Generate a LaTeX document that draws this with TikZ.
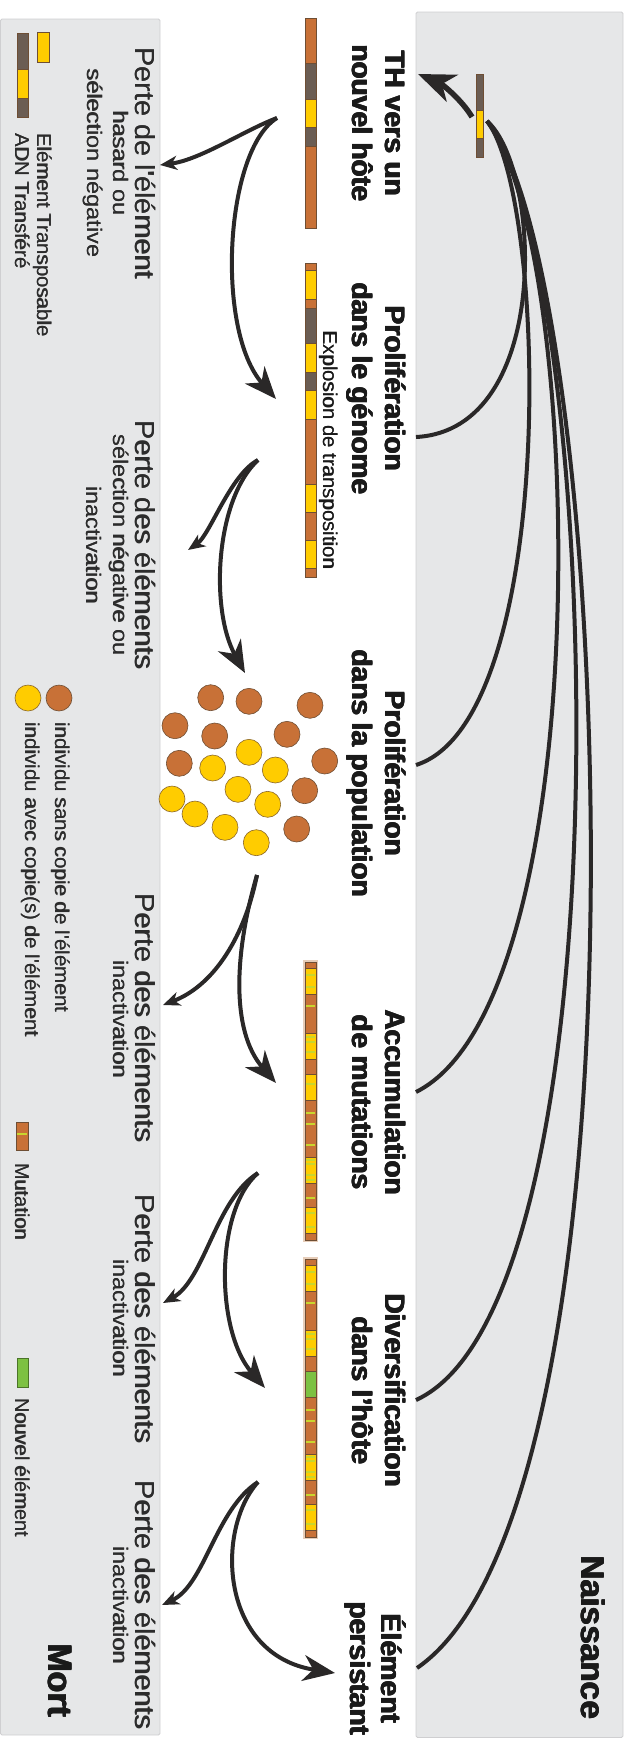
\documentclass[tikz,border=0pt]{standalone}
\usepackage{graphicx}
\usepackage{fontspec}
\setmainfont{Liberation Sans}
\newfontfamily\heavyfont{Liberation Sans Bold}
\usetikzlibrary{arrows.meta}
\definecolor{orangec}{HTML}{C87137}
\definecolor{yellowc}{HTML}{FFCC00}
\definecolor{grayc}{HTML}{6B5D53}
\definecolor{greenc}{HTML}{7DC142}
\definecolor{stripec}{HTML}{C8D62E}
\definecolor{panelc}{HTML}{E6E7E8}
\definecolor{panelb}{HTML}{CFCFD1}
\definecolor{arrowc}{HTML}{2A2828}
\definecolor{segb}{HTML}{6E4E34}
\definecolor{haloc}{HTML}{E6CDB9}
\definecolor{titlec}{HTML}{1A1A1A}
\definecolor{lossc}{HTML}{2C2C2C}
\newcommand\wide[2]{\scalebox{#1}[1]{#2}}
\newcommand\thick[1]{\rlap{\kern1pt #1}\rlap{\raisebox{0.8pt}{#1}}\rlap{\kern1pt\raisebox{0.8pt}{#1}}#1}
\newcommand\semithick[1]{\rlap{\kern0.35pt #1}#1}
\tikzset{
  panel/.style={fill=panelc, draw=panelb, line width=0.8pt, rounded corners=1.5pt},
  flow/.style={line width=4pt, draw=arrowc},
  bighead/.style={-{Stealth[length=32pt,width=26pt,inset=10pt]}},
  hugehead/.style={-{Stealth[length=37pt,width=29pt,inset=11pt]}},
  smallhead/.style={-{Stealth[length=17pt,width=14pt,inset=5pt]}},
  arcline/.style={line width=4pt, draw=arrowc},
  seg/.style={draw=segb, line width=0.6pt},
  titlel/.style={rotate=-90, anchor=base, font=\heavyfont\fontsize{28}{30}\selectfont, text=titlec, inner sep=0pt},
  losst/.style={rotate=-90, anchor=base, font=\fontsize{27.5}{29}\selectfont, text=lossc, inner sep=0pt},
  losss/.style={rotate=-90, anchor=base, font=\fontsize{21}{23}\selectfont, text=lossc, inner sep=0pt},
  legt/.style={rotate=-90, anchor=base west, font=\fontsize{20}{22}\selectfont, text=lossc, inner sep=0pt},
  popb/.style={fill=orangec, draw=segb, line width=0.6pt},
  popy/.style={fill=yellowc, draw=segb!80!yellowc, line width=0.6pt},
}
\newcommand\bseg[3]{\filldraw[seg,fill=#3] (305,#1) rectangle (316,#2);}
\newcommand\mstripe[1]{\fill[stripec] (305.7,#1-1.2) rectangle (315.3,#1+1.2);}
\begin{document}
\begin{tikzpicture}[x=1pt,y=-1pt]
\useasboundingbox (0,0) rectangle (630,1738);
% panels
\draw[panel] (0.5,19) rectangle (160,1735);
\draw[panel] (416,12) rectangle (623,1737.5);

% ---- chromosome 1
\bseg{18}{63}{orangec}\bseg{63}{99}{grayc}\bseg{99}{127}{yellowc}\bseg{127}{146}{grayc}\bseg{146}{228}{orangec}
% ---- chromosome 2 (genome)
\bseg{263}{270}{orangec}\bseg{270}{299}{yellowc}\bseg{299}{308}{orangec}\bseg{308}{343}{grayc}
\bseg{343}{372}{yellowc}\bseg{372}{390}{grayc}\bseg{390}{419}{yellowc}\bseg{419}{484}{orangec}
\bseg{484}{512}{yellowc}\bseg{512}{540}{orangec}\bseg{540}{568}{yellowc}\bseg{568}{577}{orangec}
% ---- chromosome 3 (mutations)
\fill[haloc] (303,960) rectangle (318,1242);
\bseg{962}{968}{orangec}\bseg{968}{994}{yellowc}\bseg{994}{1033}{orangec}\bseg{1033}{1059}{yellowc}
\bseg{1059}{1074}{orangec}\bseg{1074}{1100}{yellowc}\bseg{1100}{1157}{orangec}\bseg{1157}{1183}{yellowc}
\bseg{1183}{1207}{orangec}\bseg{1207}{1233}{yellowc}\bseg{1233}{1240}{orangec}
\foreach \m in {975,987,1006,1037,1042,1052,1084,1113,1124,1145,1160,1164,1175,1180,1198,1213,1227}{\mstripe{\m}}
% ---- chromosome 4 (diversification)
\fill[haloc] (303,1257) rectangle (318,1539);
\bseg{1259}{1265}{orangec}\bseg{1265}{1291}{yellowc}\bseg{1291}{1330}{orangec}\bseg{1330}{1356}{yellowc}
\bseg{1356}{1371}{orangec}\bseg{1371}{1397}{greenc}\bseg{1397}{1454}{orangec}\bseg{1454}{1480}{yellowc}
\bseg{1480}{1504}{orangec}\bseg{1504}{1530}{yellowc}\bseg{1530}{1537}{orangec}
\foreach \m in {1272,1284,1303,1334,1339,1349,1410,1421,1442,1457,1461,1472,1477,1495,1510,1524}{\mstripe{\m}}

% ---- population
\foreach \x/\y in {210.7/697.7, 249/701.3, 310/705.3, 175/725.7, 214.7/736, 287/734.3, 179.3/763.3, 324.7/761, 304.7/790.7, 296.7/829}
  {\draw[popb] (\x,\y) circle[radius=13];}
\foreach \x/\y in {249/752.3, 212.7/768, 275.3/770, 238/789.3, 172/799, 267.7/804.3, 195/814, 225/827.3, 256.3/842.7}
  {\draw[popy] (\x,\y) circle[radius=13];}

% ---- legend
\filldraw[seg,fill=yellowc] (37,32) rectangle (49,62);
\filldraw[seg,fill=grayc] (17,33) rectangle (28,69);
\filldraw[seg,fill=yellowc] (17,69) rectangle (28,98);
\filldraw[seg,fill=grayc] (17,98) rectangle (28,117);
\draw[popb] (59,698) circle[radius=13];
\draw[popy] (28,698) circle[radius=13];
\filldraw[seg,fill=orangec] (16,1122) rectangle (28,1150);
\fill[stripec] (16.6,1132.8) rectangle (27.4,1135.2);
\filldraw[seg,fill=greenc,draw=greenc!60!black] (17,1358) rectangle (28,1387);

\node[legt] (lt1) at (37,133) {\wide{1.02}{\semithick{Elément Transposable}}};
\node[legt] (lt2) at (15,133) {\wide{1.02}{\semithick{ADN Transféré}}};
\node[legt] (lt3) at (55,722) {\wide{1.03}{\semithick{individu sans copie de l\textquotesingle élément}}};
\node[legt] (lt4) at (25,722) {\wide{1.03}{\semithick{individu avec copie(s) de l\textquotesingle élément}}};
\node[legt] (lt5) at (15,1163) {\semithick{Mutation}};
\node[legt] (lt6) at (15,1398) {\semithick{Nouvel élément}};

% ---- right panel element
\filldraw[seg,fill=grayc] (476,74) rectangle (483,110);
\filldraw[seg,fill=yellowc] (476,110) rectangle (483,138);
\filldraw[seg,fill=grayc] (476,138) rectangle (483,157);

% ---- stage titles
\node[titlel] (th1) at (385,123) {\thick{TH vers un}};
\node[titlel] (th2) at (352,123) {\thick{nouvel hôte}};
\node[titlel] (pg1) at (385,388) {\thick{Prolifération}};
\node[titlel] (pg2) at (352,388) {\thick{dans le génome}};
\node[rotate=-90, anchor=base, font=\fontsize{20}{22}\selectfont, text=titlec, inner sep=0pt] (expl) at (323,450) {\wide{1.02}{\semithick{Explosion de transposition}}};
\node[titlel] (pp1) at (385,773) {\thick{Prolifération}};
\node[titlel] (pp2) at (352,773) {\thick{dans la population}};
\node[titlel] (am1) at (385,1102) {\thick{Accumulation}};
\node[titlel] (am2) at (352,1102) {\thick{de mutations}};
\node[titlel] (dh1) at (385,1390) {\thick{Diversification}};
\node[titlel] (dh2) at (352,1390) {\thick{dans l’hôte}};
\node[titlel] (ep1) at (381,1668) {\thick{Élément}};
\node[titlel] (ep2) at (350,1668) {\thick{persistant}};
\node[titlel, font=\heavyfont\fontsize{33}{35}\selectfont] (nais) at (581,1637) {\thick{Naissance}};
\node[titlel, font=\heavyfont\fontsize{34}{36}\selectfont] (mort) at (48,1680) {\thick{Mort}};

% ---- loss labels
\node[losst] (p1a) at (135,163) {\wide{1.05}{\semithick{Perte de l\textquotesingle élément}}};
\node[losss] (p1b) at (113,163) {\wide{1.12}{\semithick{hasard ou}}};
\node[losss] (p1c) at (87,163) {\wide{1.12}{\semithick{sélection négative}}};
\node[losst] (p2a) at (135,545) {\wide{1.05}{\semithick{Perte des éléments}}};
\node[losss] (p2b) at (113,545) {\wide{1.12}{\semithick{sélection négative ou}}};
\node[losss] (p2c) at (86,545) {\wide{1.12}{\semithick{inactivation}}};
\node[losst] (p3a) at (135,1018) {\wide{1.05}{\semithick{Perte des éléments}}};
\node[losss] (p3b) at (113,1019) {\wide{1.12}{\semithick{inactivation}}};
\node[losst] (p4a) at (135,1319) {\wide{1.05}{\semithick{Perte des éléments}}};
\node[losss] (p4b) at (113,1318) {\wide{1.12}{\semithick{inactivation}}};
\node[losst] (p5a) at (135,1605) {\wide{1.05}{\semithick{Perte des éléments}}};
\node[losss] (p5b) at (113,1605) {\wide{1.12}{\semithick{inactivation}}};

% ---- flow arrows
\coordinate (s1) at (277,118); \coordinate (l1) at (160,165); \coordinate (g1) at (276,399);
\coordinate (s2) at (258,460); \coordinate (l2) at (188,550); \coordinate (g2) at (245,673);
\coordinate (s3) at (257,875); \coordinate (l3) at (163,1005); \coordinate (g3) at (276,1083);
\coordinate (s4) at (258,1173); \coordinate (l4) at (163,1303); \coordinate (g4) at (265,1388);
\coordinate (s5) at (258,1482); \coordinate (l5) at (162,1605); \coordinate (g5) at (335,1673);

\draw[flow,smallhead] (s1) .. controls (245,130) and (200,160) .. (l1);
\draw[flow,bighead] (s1) .. controls (225,150) and (215,330) .. (g1);
\draw[flow,smallhead] (s2) .. controls (230,475) and (210,535) .. (l2);
\draw[flow,bighead] (s2) .. controls (215,500) and (210,610) .. (g2);
\draw[flow,smallhead] (s3) .. controls (245,935) and (215,985) .. (l3);
\draw[flow,bighead] (s3) .. controls (235,950) and (230,1030) .. (g3);
\draw[flow,smallhead] (s4) .. controls (215,1200) and (205,1280) .. (l4);
\draw[flow,bighead] (s4) .. controls (215,1210) and (215,1330) .. (g4);
\draw[flow,smallhead] (s5) .. controls (215,1510) and (205,1585) .. (l5);
\draw[flow,bighead] (s5) .. controls (215,1530) and (220,1655) .. (g5);

% ---- birth arcs
\coordinate (src) at (487,121);
\coordinate (src0) at (472,117);
\coordinate (th) at (418,74);
\coordinate (e1) at (416,437);
\coordinate (e2) at (416,765);
\coordinate (e3) at (416,1092);
\coordinate (e4) at (416,1400);
\coordinate (e5) at (417,1668);
\draw[flow,line width=5.5pt,hugehead] (src0) .. controls (462,100) and (442,84) .. (th);
\draw[arcline] (src) .. controls (542,170) and (552,430) .. (e1);
\draw[arcline] (src) .. controls (548,200) and (558,720) .. (e2);
\draw[arcline] (src) .. controls (585,250) and (600,1000) .. (e3);
\draw[arcline] (src) .. controls (600,260) and (635,1300) .. (e4);
\draw[arcline] (src) .. controls (612,270) and (662,1500) .. (e5);
\end{tikzpicture}
\end{document}
